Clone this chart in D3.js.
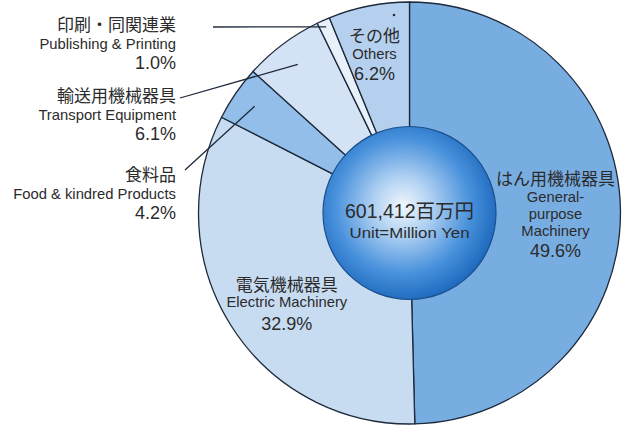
<!DOCTYPE html>
<html>
<head>
<meta charset="utf-8">
<script src="https://cdn.jsdelivr.net/npm/d3@7"></script>
<style>
  html, body { margin: 0; padding: 0; background: #fff; }
  svg { display: block; }
  text { font-family: "Liberation Sans", "Noto Sans CJK JP", sans-serif; fill: #2b2b2b; }
</style>
</head>
<body>
<div id="wrapper"></div>
<script>
// data, clockwise from 12 o'clock
const namesJa = ["はん用機械器具", "電気機械器具", "食料品", "輸送用機械器具", "印刷・同関連業", "その他"]
const namesEn = [["General-", "purpose", "Machinery"], ["Electric Machinery"], ["Food & kindred Products"],
    ["Transport Equipment"], ["Publishing & Printing"], ["Others"]]
const shares = [49.6, 32.9, 4.2, 6.1, 1.0, 6.2]
const sliceColors = ["#78ade2", "#c7dbf1", "#93bee9", "#d3e2f4", "#e8f0f9", "#b5d0ee"]
const totalText = "601,412百万円"
const unitText = "Unit=Million Yen"

const width = 626, height = 427
const cx = 409.5, cy = 213
const outerR = 211, innerR = 86.5

const svg = d3.select("#wrapper")
    .append("svg")
        .attr("width", width)
        .attr("height", height)

const defs = svg.append("defs")
const grad = defs.append("radialGradient")
    .attr("id", "hub")
    .attr("cx", "46%").attr("cy", "46%").attr("r", "56%")
grad.selectAll("stop")
    .data([[0, "#f1f7fd"], [0.3, "#b0d1f2"], [0.7, "#4891dc"], [1, "#1c68bc"]])
    .join("stop")
    .attr("offset", d => d[0])
    .attr("stop-color", d => d[1])

const chart = svg.append("g")
    .attr("transform", `translate(${cx},${cy})`)

const pie = d3.pie().sort(null).value(d => d)
const arcs = pie(shares)

const arc = d3.arc().innerRadius(innerR - 3).outerRadius(outerR)

chart.selectAll(".slice")
    .data(arcs)
    .join("path")
    .attr("class", "slice")
    .attr("d", arc)
    .attr("fill", (d, i) => sliceColors[i])
    .attr("stroke", "#1d2a3b")
    .attr("stroke-width", 1.3)
    .attr("stroke-linejoin", "round")

// centre disk
chart.append("circle")
    .attr("r", innerR)
    .attr("fill", "url(#hub)")
    .attr("stroke", "#1a4f8c")
    .attr("stroke-width", 1.2)

chart.append("text")
    .attr("text-anchor", "middle")
    .attr("y", 5)
    .style("font-size", "19.5px")
    .text(totalText)
chart.append("text")
    .attr("text-anchor", "middle")
    .attr("y", 25)
    .attr("textLength", 120)
    .attr("lengthAdjust", "spacingAndGlyphs")
    .style("font-size", "14.5px")
    .text(unitText)

// point at radius rr along middle of a slice
function at(d, rr) {
    return d3.arc().innerRadius(rr).outerRadius(rr).centroid(d)
}

// labels inside the ring
const inside = [
    {i: 0, rr: 146, dx: 0, dy: -26, gap: [17, 17, 17], pctGap: 21},
    {i: 1, rr: 145, dx: 0, dy: 1, gap: [16], pctGap: 23},
    {i: 5, rr: 155, dx: -5, dy: -19, gap: [17], pctGap: 21}
]

inside.forEach(lab => {
    const [x, y] = at(arcs[lab.i], lab.rr)
    const g = chart.append("g").attr("transform", `translate(${x + lab.dx},${y + lab.dy})`)
    g.append("text")
        .attr("text-anchor", "middle")
        .style("font-size", "17px")
        .text(namesJa[lab.i])
    let yy = 0
    namesEn[lab.i].forEach((t, k) => {
        yy += lab.gap[k]
        g.append("text")
            .attr("text-anchor", "middle")
            .attr("y", yy)
            .style("font-size", "14.8px")
            .text(t)
    })
    g.append("text")
        .attr("text-anchor", "middle")
        .attr("y", yy + lab.pctGap)
        .style("font-size", "18px")
        .text(shares[lab.i].toFixed(1) + "%")
})

// labels on the left with leader lines
const outside = [
    {i: 4, y: 31, lineFrom: [213, 27], rr: 204},
    {i: 3, y: 102, lineFrom: [180, 98], rr: 186},
    {i: 2, y: 181, lineFrom: [185, 170], rr: 188}
]
const labelRight = 176

outside.forEach(lab => {
    const [ex, ey] = at(arcs[lab.i], lab.rr)
    svg.append("line")
        .attr("x1", lab.lineFrom[0]).attr("y1", lab.lineFrom[1])
        .attr("x2", cx + ex).attr("y2", cy + ey)
        .attr("stroke", "#1d2a3b")
        .attr("stroke-width", 1.3)
    svg.append("text")
        .attr("x", labelRight).attr("y", lab.y)
        .attr("text-anchor", "end")
        .style("font-size", "17px")
        .text(namesJa[lab.i])
    svg.append("text")
        .attr("x", labelRight).attr("y", lab.y + 18)
        .attr("text-anchor", "end")
        .style("font-size", "14.8px")
        .text(namesEn[lab.i][0])
    svg.append("text")
        .attr("x", labelRight).attr("y", lab.y + 38)
        .attr("text-anchor", "end")
        .style("font-size", "18px")
        .text(shares[lab.i].toFixed(1) + "%")
})

// small speck near the top of "Others"
svg.append("circle")
    .attr("cx", 394).attr("cy", 15).attr("r", 1.3)
    .attr("fill", "#2b2b2b")
</script>
</body>
</html>
